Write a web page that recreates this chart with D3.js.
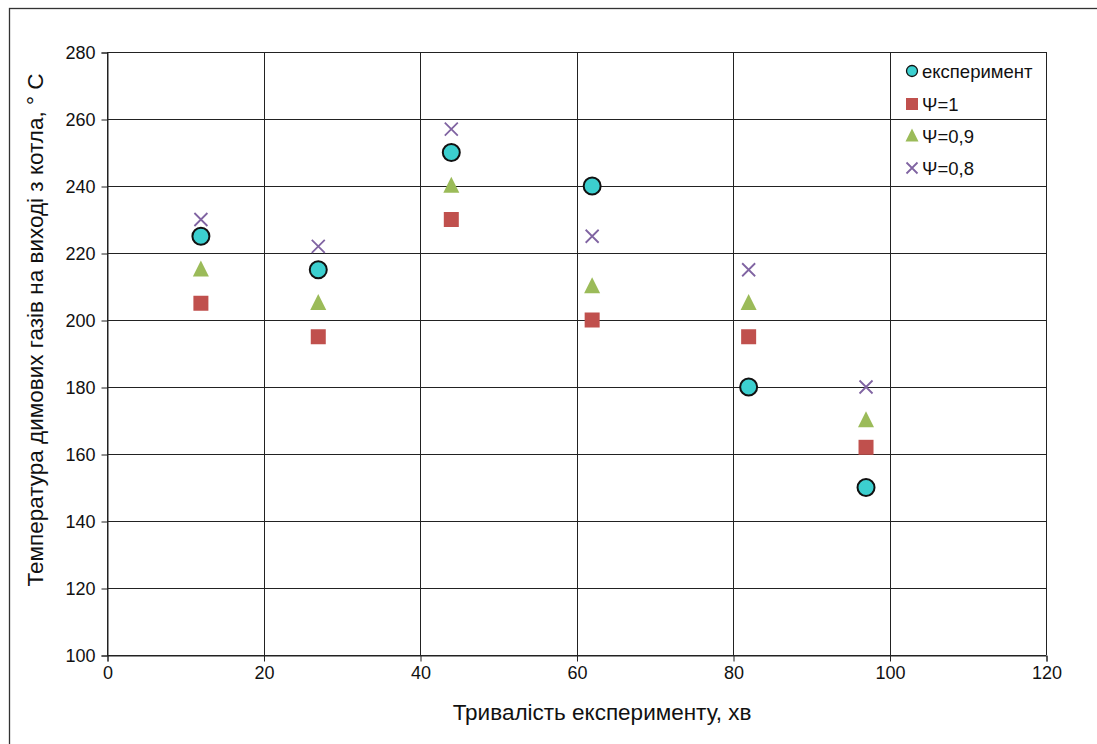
<!DOCTYPE html>
<html>
<head>
<meta charset="utf-8">
<script src="https://cdn.jsdelivr.net/npm/d3@7"></script>
<style>
  body { margin: 0; background: #fff; }
  svg { display: block; font-family: "Liberation Sans", Arial, sans-serif; }
</style>
</head>
<body>
<div class="chart"></div>
<script>
// ---------------- data ----------------
const minutes = [12, 27, 44, 62, 82, 97]
const experiment = [225, 215, 250, 240, 180, 150]
const psi1 = [205, 195, 230, 200, 195, 162]
const psi09 = [215, 205, 240, 210, 205, 170]
const psi08 = [230, 222, 257, 225, 215, 180]
const xTicks = [0, 20, 40, 60, 80, 100, 120]
const yTicks = [100, 120, 140, 160, 180, 200, 220, 240, 260, 280]
const seriesNames = ['експеримент', 'Ψ=1', 'Ψ=0,9', 'Ψ=0,8']

// ---------------- structure ----------------
const width = 1097, height = 744
const margin = {top: 52, right: 51, bottom: 89, left: 107}

const svg = d3.select('.chart').append('svg')
  .attr('width', width)
  .attr('height', height)

// outer frame
svg.append('rect')
  .attr('x', 9.5).attr('y', 8.5)
  .attr('width', width + 20).attr('height', height + 20)
  .attr('fill', 'none').attr('stroke', '#333').attr('stroke-width', 1.3)

const x = d3.scaleLinear().domain([0, 120]).range([margin.left, width - margin.right])
const y = d3.scaleLinear().domain([100, 280]).range([height - margin.bottom, margin.top])

// grid
const grid = svg.append('g').attr('stroke', '#222').attr('stroke-width', 1)
grid.selectAll('.h').data(yTicks).enter().append('line')
  .attr('x1', x(0)).attr('x2', x(120))
  .attr('y1', d => Math.round(y(d)) + 0.5).attr('y2', d => Math.round(y(d)) + 0.5)
grid.selectAll('.v').data(xTicks).enter().append('line')
  .attr('y1', y(100)).attr('y2', y(280))
  .attr('x1', d => Math.round(x(d)) + 0.5).attr('x2', d => Math.round(x(d)) + 0.5)

// axes
const xAxis = svg.append('g')
  .attr('transform', `translate(0.5,${Math.round(y(100)) + 0.5})`)
  .call(d3.axisBottom(x).tickValues(xTicks).tickSize(6).tickPadding(5))
const yAxis = svg.append('g')
  .attr('transform', `translate(${Math.round(x(0)) + 0.5},0.5)`)
  .call(d3.axisLeft(y).tickValues(yTicks).tickSize(6).tickPadding(6))

;[xAxis, yAxis].forEach(a => {
  a.select('.domain').attr('stroke', '#222')
  a.selectAll('.tick line').attr('stroke', '#222')
  a.selectAll('.tick text').attr('font-size', 18).attr('fill', '#111')
    .attr('font-family', '"Liberation Sans", Arial, sans-serif')
})

// titles
svg.append('text')
  .attr('x', 602).attr('y', 720)
  .attr('text-anchor', 'middle').attr('font-size', 22.5).attr('fill', '#111')
  .text('Тривалість експерименту, хв')

svg.append('text')
  .attr('transform', 'translate(43,330) rotate(-90)')
  .attr('text-anchor', 'middle').attr('font-size', 22.5).attr('fill', '#111')
  .text('Температура димових газів на виході з котла, ° С')

// ---------------- markers ----------------
const colors = {exp: '#3ccfcf', p1: '#c0504d', p09: '#9bbb59', p08: '#8064a2'}

const drawSquare = (g, cx, cy, s) => g.append('rect')
  .attr('x', cx - s / 2).attr('y', cy - s / 2).attr('width', s).attr('height', s)
  .attr('fill', colors.p1)
const drawTriangle = (g, cx, cy, s) => g.append('path')
  .attr('d', `M${cx},${cy - s * 0.58}L${cx + s / 2},${cy + s * 0.42}L${cx - s / 2},${cy + s * 0.42}Z`)
  .attr('fill', colors.p09)
const drawCross = (g, cx, cy, s) => g.append('path')
  .attr('d', `M${cx - s / 2},${cy - s / 2}L${cx + s / 2},${cy + s / 2}M${cx + s / 2},${cy - s / 2}L${cx - s / 2},${cy + s / 2}`)
  .attr('stroke', colors.p08).attr('stroke-width', 1.8).attr('fill', 'none')

const marks = svg.append('g')

minutes.forEach((m, i) => drawSquare(marks, x(m), y(psi1[i]), 15))
minutes.forEach((m, i) => drawTriangle(marks, x(m), y(psi09[i]), 16))
minutes.forEach((m, i) => drawCross(marks, x(m), y(psi08[i]), 13))
marks.selectAll('circle').data(minutes).enter().append('circle')
  .attr('cx', d => x(d)).attr('cy', (d, i) => y(experiment[i]))
  .attr('r', 8.5)
  .attr('fill', colors.exp).attr('stroke', '#111').attr('stroke-width', 2)

// ---------------- legend ----------------
const legend = svg.append('g')
const lx = 912, ly = [71, 104, 136, 168]
legend.append('circle').attr('cx', lx).attr('cy', ly[0]).attr('r', 5.5)
  .attr('fill', colors.exp).attr('stroke', '#111').attr('stroke-width', 1.3)
drawSquare(legend, lx, ly[1], 12)
drawTriangle(legend, lx, ly[2], 13)
drawCross(legend, lx, ly[3], 11)
legend.selectAll('text').data(seriesNames).enter().append('text')
  .attr('x', lx + 10).attr('y', (d, i) => ly[i] + 6.5)
  .attr('font-size', 18.5).attr('fill', '#111')
  .text(d => d)
</script>
</body>
</html>
